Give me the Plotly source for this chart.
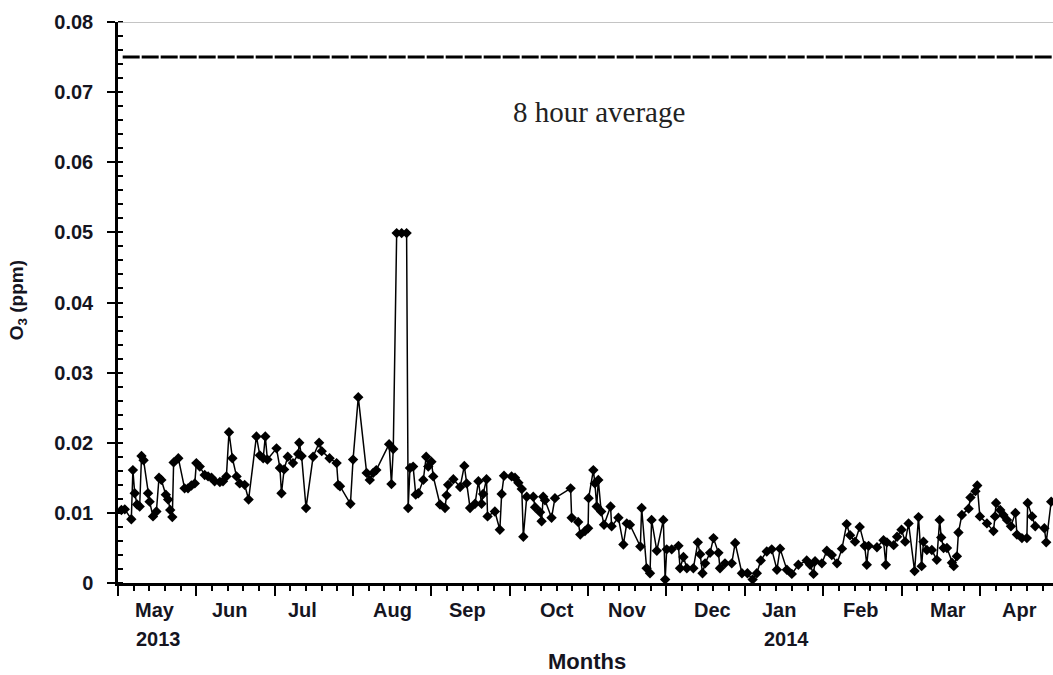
import plotly.graph_objects as go

# ---------------- data (day index from 1 May 2013, O3 in ppm) ----------------
days = [
    1.3, 2.6, 5.1, 5.7, 6.4, 7.3, 8.3, 9.0, 9.8, 11.5,
    12.1, 13.4, 14.7, 15.7, 16.6, 18.3, 19.2, 20.0, 20.8, 21.3,
    23.1, 25.5, 26.8, 28.1, 29.4, 30.0, 31.3, 33.2, 34.5, 35.8,
    37.0, 39.0, 40.2, 41.5, 42.5, 43.8, 45.4, 46.6, 48.5, 50.0,
    53.0, 54.3, 55.6, 56.4, 57.2, 60.7, 62.0, 62.6, 63.6, 65.0,
    67.0, 69.0, 69.4, 70.3, 72.0, 74.7, 77.0, 78.0, 81.0, 83.7,
    84.3, 85.0, 89.0, 90.0, 92.0, 95.2, 96.4, 97.7, 98.9, 103.8,
    104.7, 105.4, 106.7, 108.6, 110.5, 111.1, 111.8, 113.0, 114.0, 115.0,
    116.9, 118.0, 118.8, 120.0, 120.7, 123.3, 125.2, 125.8, 126.4, 128.4,
    131.0, 132.6, 133.5, 134.8, 136.7, 138.0, 139.2, 139.8, 141.1, 141.5,
    144.3, 146.2, 146.9, 147.8, 150.7, 152.0, 153.3, 154.6, 155.2, 156.5,
    159.0, 159.7, 161.6, 162.2, 162.8, 163.5, 166.0, 167.3, 173.3, 173.7,
    176.2, 177.0, 178.8, 180.0, 180.2, 182.0, 182.6, 183.3, 183.9, 185.0,
    186.1, 188.6, 189.0, 191.6, 193.5, 194.8, 196.0, 200.0, 200.5, 202.4,
    203.7, 204.3, 206.3, 208.8, 209.5, 210.1, 212.0, 214.6, 215.2, 216.5,
    217.8, 220.3, 222.0, 222.9, 223.8, 224.8, 226.7, 228.0, 229.9, 230.5,
    232.4, 235.0, 236.3, 238.9, 241.0, 243.0, 244.6, 246.1, 248.4, 250.3,
    252.3, 253.5, 256.1, 258.0, 260.5, 263.7, 265.0, 266.3, 266.9, 269.5,
    271.4, 273.3, 275.3, 277.2, 279.0, 280.3, 282.2, 284.0, 285.9, 286.7,
    287.4, 290.6, 293.1, 294.0, 294.4, 297.0, 298.3, 300.0, 301.4, 302.7,
    305.0, 306.5, 307.7, 308.4, 309.7, 311.6, 313.5, 314.6, 315.2, 316.1,
    317.4, 319.3, 320.0, 321.2, 321.8, 323.1, 325.7, 326.4, 328.3, 329.0,
    330.0, 332.7, 335.2, 335.8, 336.2, 337.8, 339.0, 340.4, 341.9, 343.6,
    344.2, 346.1, 348.0, 348.3, 350.0, 351.2, 354.7, 355.4, 357.3,
]
o3_ppm = [
    .0104, .0105, .0091, .0161, .0128, .0112, .0109, .0181, .0175, .0128,
    .0116, .0095, .0102, .0150, .0147, .0126, .0119, .0104, .0094, .0172,
    .0178, .0135, .0135, .0139, .0142, .0171, .0166, .0154, .0152, .0150,
    .0145, .0144, .0145, .0152, .0215, .0178, .0152, .0142, .0140, .0119,
    .0209, .0182, .0178, .0209, .0176, .0192, .0164, .0128, .0162, .0180,
    .0171, .0184, .0200, .0181, .0107, .0180, .0200, .0188, .0178, .0171,
    .0140, .0138, .0113, .0176, .0265, .0157, .0147, .0157, .0161, .0198,
    .0141, .0191, .0499, .0499, .0499, .0107, .0164, .0166, .0126, .0128,
    .0147, .0180, .0166, .0173, .0152, .0112, .0107, .0125, .0140, .0148,
    .0137, .0167, .0142, .0107, .0113, .0145, .0113, .0127, .0148, .0095,
    .0102, .0076, .0127, .0153, .0152, .0150, .0143, .0134, .0066, .0123,
    .0123, .0108, .0101, .0088, .0123, .0118, .0093, .0121, .0135, .0093,
    .0087, .0069, .0074, .0078, .0121, .0161, .0142, .0109, .0147, .0102,
    .0083, .0109, .0081, .0093, .0055, .0085, .0083, .0052, .0107, .0021,
    .0014, .0090, .0046, .0090, .0005, .0048, .0048, .0053, .0021, .0037,
    .0021, .0021, .0058, .0041, .0014, .0028, .0043, .0064, .0043, .0021,
    .0028, .0028, .0057, .0014, .0014, .0005, .0014, .0032, .0045, .0048,
    .0019, .0049, .0019, .0013, .0026, .0032, .0026, .0013, .0031, .0028,
    .0046, .0040, .0028, .0049, .0084, .0068, .0059, .0080, .0053, .0026,
    .0053, .0051, .0061, .0026, .0058, .0054, .0066, .0076, .0059, .0085,
    .0017, .0094, .0024, .0059, .0047, .0047, .0033, .0090, .0065, .0050,
    .0050, .0029, .0024, .0038, .0072, .0097, .0106, .0122, .0131, .0139,
    .0095, .0085, .0074, .0095, .0114, .0104, .0097, .0090, .0081, .0100,
    .0069, .0064, .0064, .0114, .0095, .0081, .0078, .0058, .0116,
]

standard_8h = 0.075
standard_label = "8 hour average"

month_ticks = [0, 30, 60, 90, 120, 150, 180, 210, 240, 270, 300, 330]
month_names = ["May", "Jun", "Jul", "Aug", "Sep", "Oct",
               "Nov", "Dec", "Jan", "Feb", "Mar", "Apr"]
month_label_pos = [14, 42.8, 70.8, 105, 134, 168, 195, 227.5, 253, 284.5, 317.7, 345]
year_names = ["2013", "2014"]
year_label_pos = [15.5, 256]

y_ticks = [0, 0.01, 0.02, 0.03, 0.04, 0.05, 0.06, 0.07, 0.08]
y_ticktext = ["0", "0.01", "0.02", "0.03", "0.04", "0.05", "0.06", "0.07", "0.08"]

# ---------------- figure ----------------
SANS = "Liberation Sans, Arial, sans-serif"
SERIF = "Liberation Serif, Times New Roman, serif"
TXT = "#15151f"

fig = go.Figure()
fig.add_trace(go.Scatter(
    x=days, y=o3_ppm, mode="lines+markers",
    line=dict(color="black", width=1.5),
    marker=dict(symbol="diamond", size=8, color="black"),
    showlegend=False,
))

# 8-hour standard (dashed) and thin top frame line
fig.add_shape(type="line", xref="paper", x0=0.005, x1=1, yref="y",
              y0=standard_8h, y1=standard_8h,
              line=dict(color="black", width=3, dash="17px,2px"))
fig.add_shape(type="line", xref="paper", x0=0, x1=1, yref="y",
              y0=0.08, y1=0.08, line=dict(color="#b0b0b0", width=1.5))

fig.add_annotation(x=184, y=0.0671, xref="x", yref="y", text=standard_label,
                   showarrow=False, font=dict(family=SERIF, size=29, color="#222"))

for name, pos in zip(month_names, month_label_pos):
    fig.add_annotation(x=pos, y=-0.0475, xref="x", yref="paper", text=name,
                       showarrow=False, yanchor="middle",
                       font=dict(family=SANS, size=20, color=TXT, weight="bold"))
for name, pos in zip(year_names, year_label_pos):
    fig.add_annotation(x=pos, y=-0.1, xref="x", yref="paper", text=name,
                       showarrow=False, yanchor="middle",
                       font=dict(family=SANS, size=20, color=TXT, weight="bold"))

fig.add_annotation(x=0.502, y=-0.14, xref="paper", yref="paper", text="Months",
                   showarrow=False, yanchor="middle",
                   font=dict(family=SANS, size=22, color=TXT, weight="bold"))
fig.add_annotation(x=-0.107, y=0.504, xref="paper", yref="paper",
                   text="O<sub>3</sub> (ppm)", textangle=-90, showarrow=False,
                   xanchor="center", yanchor="middle",
                   font=dict(family=SANS, size=19, color=TXT, weight="bold"))

fig.update_xaxes(
    range=[0, 358], tickmode="array", tickvals=month_ticks, showticklabels=False,
    ticks="outside", ticklen=10, tickwidth=2, tickcolor="black",
    showline=True, linecolor="black", linewidth=2.5, showgrid=False, zeroline=False,
    minor=dict(tick0=0, dtick=6, ticks="outside", ticklen=5, tickwidth=1.5,
               tickcolor="black", showgrid=False),
)
fig.update_yaxes(
    range=[0, 0.08], tickmode="array", tickvals=y_ticks, ticktext=y_ticktext,
    ticks="outside", ticklen=8, tickwidth=2, tickcolor="black",
    ticklabelstandoff=10,
    tickfont=dict(family=SANS, size=20, color=TXT, weight="bold"),
    showline=True, linecolor="black", linewidth=2.5, showgrid=False, zeroline=False,
    minor=dict(tick0=0, dtick=0.002, ticks="inside", ticklen=5, tickwidth=1.5,
               tickcolor="black", showgrid=False),
)

fig.update_layout(
    width=1053, height=675, autosize=False,
    margin=dict(l=118, r=0, t=22, b=92),
    paper_bgcolor="white", plot_bgcolor="white",
)

fig.write_html(
    "out.html",
    config={"displayModeBar": False},
    post_script="document.body.style.margin='0';document.body.style.overflow='hidden';",
)
